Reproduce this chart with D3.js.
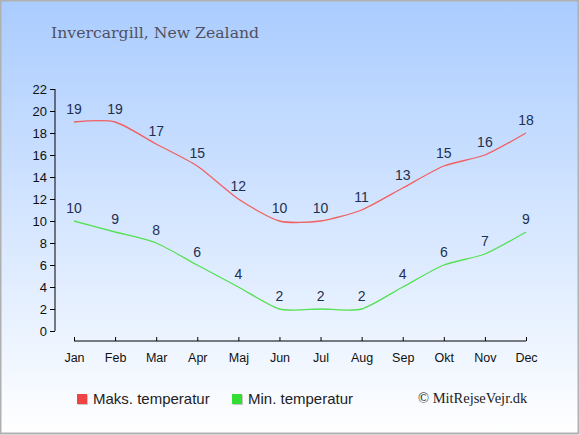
<!DOCTYPE html>
<html>
<head>
<meta charset="utf-8">
<script src="https://cdn.jsdelivr.net/npm/d3@7"></script>
<style>
  html, body { margin: 0; padding: 0; background: #fff; }
  #chart { width: 580px; height: 435px; }
</style>
</head>
<body>
<div id="chart"></div>
<script>
const width = 580;
const height = 435;

// Data
const months = ["Jan", "Feb", "Mar", "Apr", "Maj", "Jun", "Jul", "Aug", "Sep", "Okt", "Nov", "Dec"];
const maxTemp = [19, 19, 17, 15, 12, 10, 10, 11, 13, 15, 16, 18];
const minTemp = [10, 9, 8, 6, 4, 2, 2, 2, 4, 6, 7, 9];
const yTicks = [0, 2, 4, 6, 8, 10, 12, 14, 16, 18, 20, 22];

const svg = d3.select("#chart")
  .append("svg")
  .attr("width", width)
  .attr("height", height);

// Baggrund
const grad = svg.append("defs").append("linearGradient")
  .attr("id", "bg")
  .attr("x1", 0).attr("y1", 0).attr("x2", 0).attr("y2", 1);
grad.append("stop").attr("offset", "0%").attr("stop-color", "#aaccff");
grad.append("stop").attr("offset", "100%").attr("stop-color", "#ffffff");

svg.append("rect")
  .attr("x", 0.5).attr("y", 0.5)
  .attr("width", width - 2).attr("height", height - 2)
  .attr("fill", "url(#bg)")
  .attr("stroke", "#b0b0b0")
  .attr("stroke-width", 2);

// Titel
svg.append("text")
  .attr("x", 51)
  .attr("y", 38)
  .attr("font-family", "DejaVu Serif, serif")
  .attr("font-size", 15.7)
  .attr("fill", "#505060")
  .text("Invercargill, New Zealand");

// Skalaer
const x = d3.scalePoint()
  .domain(months)
  .range([74, 526]);

const y = d3.scaleLinear()
  .domain([0, 22])
  .range([331, 89]);

// Y-akse
const yAxis = svg.append("g")
  .attr("transform", "translate(55,0)")
  .call(d3.axisLeft(y).tickValues(yTicks).tickSize(5).tickPadding(3));
yAxis.select(".domain").attr("stroke", "#000").attr("d", "M0,89V331");
yAxis.selectAll("text")
  .attr("font-family", "Liberation Sans, Arial, sans-serif")
  .attr("font-size", 13)
  .attr("fill", "#111");

// X-akse
const xAxis = svg.append("g")
  .attr("transform", "translate(0,341)")
  .call(d3.axisBottom(x).tickSizeInner(-5).tickSizeOuter(0).tickPadding(8));
xAxis.select(".domain").attr("stroke", "#000").attr("d", "M74,0H526");
xAxis.selectAll(".tick line").attr("y1", -4).attr("y2", 0);
xAxis.selectAll("text")
  .attr("font-family", "Liberation Sans, Arial, sans-serif")
  .attr("font-size", 12.5)
  .attr("fill", "#111")
  .attr("dy", "1.05em");

// Linjer
const line = d3.line()
  .x((d, i) => x(months[i]))
  .y(d => y(d))
  .curve(d3.curveCardinal.tension(0.3));

const series = [
  { name: "Maks. temperatur", values: maxTemp, color: "#f06060", legend: "#ee4444" },
  { name: "Min. temperatur", values: minTemp, color: "#55e055", legend: "#33dd33" }
];

series.forEach(s => {
  svg.append("path")
    .datum(s.values)
    .attr("fill", "none")
    .attr("stroke", s.color)
    .attr("stroke-width", 1.3)
    .attr("d", line);

  svg.selectAll(null)
    .data(s.values)
    .enter()
    .append("text")
    .attr("x", (d, i) => x(months[i]))
    .attr("y", d => y(d) - 8)
    .attr("text-anchor", "middle")
    .attr("font-family", "Liberation Sans, Arial, sans-serif")
    .attr("font-size", 14)
    .attr("fill", "#1e3050")
    .text(d => d);
});

// Legende
const legendX = [77, 232];
series.forEach((s, i) => {
  svg.append("rect")
    .attr("x", legendX[i] + 1).attr("y", 395)
    .attr("width", 10).attr("height", 10)
    .attr("fill", "#c8c8c8");
  svg.append("rect")
    .attr("x", legendX[i]).attr("y", 394)
    .attr("width", 10).attr("height", 10)
    .attr("fill", s.legend);
  svg.append("text")
    .attr("x", legendX[i] + 16)
    .attr("y", 404)
    .attr("font-family", "Liberation Sans, Arial, sans-serif")
    .attr("font-size", 15)
    .attr("fill", "#222")
    .text(s.name);
});

svg.append("text")
  .attr("x", 418)
  .attr("y", 403)
  .attr("font-family", "Liberation Serif, Times New Roman, serif")
  .attr("font-size", 14.5)
  .attr("fill", "#222")
  .text("© MitRejseVejr.dk");
</script>
</body>
</html>
